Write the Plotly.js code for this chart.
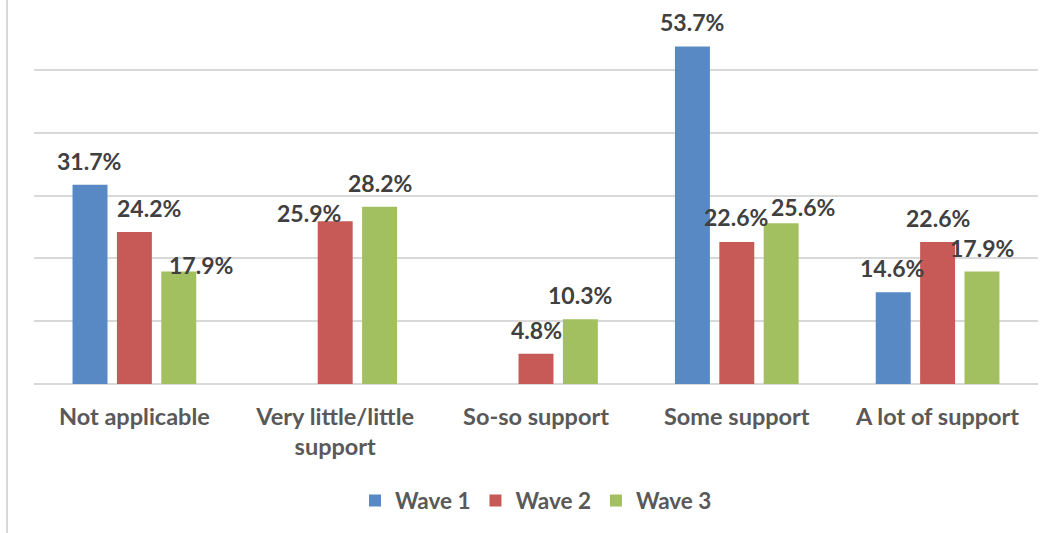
<!DOCTYPE html>
<html>
<head>
<meta charset="utf-8">
<script src="https://cdn.plot.ly/plotly-3.0.1.min.js"></script>
<style>
  html, body { margin: 0; padding: 0; background: #ffffff; }
  #wrap { position: relative; width: 1057px; height: 533px; overflow: hidden; }
  #chart { position: absolute; left: 0; top: 0; width: 1057px; height: 533px; }
  #frame { position: absolute; left: 6px; top: 0; width: 2px; height: 533px; background: #d9d9d9; }
</style>
</head>
<body>
<div id="wrap">
  <div id="chart"></div>
  <div id="frame"></div>
</div>
<script>
// Level of support reported in each survey wave (percent of respondents)
const categories = ['Not applicable', 'Very little/little<br>support', 'So-so support', 'Some support', 'A lot of support'];
const seriesNames = ['Wave 1', 'Wave 2', 'Wave 3'];
const wave1 = [31.7, null, null, 53.7, 14.6];
const wave2 = [24.2, 25.9, 4.8, 22.6, 22.6];
const wave3 = [17.9, 28.2, 10.3, 25.6, 17.9];
const seriesColors = ['#5889c4', '#c75a56', '#a3c061'];

// Label placement: default lift above the bar top, plus a few hand-placed nudges [dx, dy]
const labelLift = 24;
const labelNudges = {
  '0,0': [-1, 24], '0,3': [0, 25], '0,4': [-1, 24],
  '1,0': [15, 24], '1,1': [-26, 8.6], '1,3': [-1, 24.7],
  '2,0': [22, 6.5], '2,1': [0, 23.5], '2,3': [21.6, 16]
};

const bargap = 0.337;
const bargroupgap = 0.212;
const allSeries = [wave1, wave2, wave3];

const traces = allSeries.map((vals, s) => ({
  type: 'bar',
  name: seriesNames[s],
  x: categories,
  y: vals,
  marker: { color: seriesColors[s] },
  hoverinfo: 'skip'
}));

// Value labels placed over each bar's slot within its group
const slot = (1 - bargap) / allSeries.length;
const annotations = [];
allSeries.forEach((vals, s) => {
  vals.forEach((v, i) => {
    if (v === null) return;
    const n = labelNudges[s + ',' + i] || [0, labelLift];
    annotations.push({
      x: i + (s - (allSeries.length - 1) / 2) * slot,
      y: v,
      xref: 'x', yref: 'y',
      text: v.toFixed(1) + '%',
      showarrow: false,
      xanchor: 'center', yanchor: 'middle',
      xshift: n[0], yshift: n[1],
      font: { family: 'Lato, sans-serif', size: 23, color: '#404040', weight: 'bold' }
    });
  });
});

const layout = {
  width: 1057,
  height: 533,
  margin: { l: 34, r: 19, t: 7, b: 149 },
  paper_bgcolor: '#ffffff',
  plot_bgcolor: '#ffffff',
  barmode: 'group',
  bargap: bargap,
  bargroupgap: bargroupgap,
  showlegend: true,
  legend: {
    orientation: 'h',
    x: 0.5, xanchor: 'center',
    y: -0.31, yanchor: 'middle',
    font: { family: 'Lato, sans-serif', size: 22.5, color: '#595959', weight: 'bold' },
    itemclick: false
  },
  xaxis: {
    type: 'category',
    showgrid: false,
    showline: false,
    ticks: '',
    ticklabelstandoff: 16,
    tickfont: { family: 'Lato, sans-serif', size: 23.5, color: '#595959', weight: 'bold' },
    fixedrange: true
  },
  yaxis: {
    range: [0, 60],
    dtick: 10,
    showticklabels: false,
    showgrid: true,
    gridcolor: '#d9d9d9',
    gridwidth: 2,
    zeroline: true,
    zerolinecolor: '#d9d9d9',
    zerolinewidth: 2,
    showline: false,
    ticks: '',
    fixedrange: true
  },
  annotations: annotations
};

Plotly.newPlot('chart', traces, layout, { displayModeBar: false, staticPlot: true });
</script>
</body>
</html>
